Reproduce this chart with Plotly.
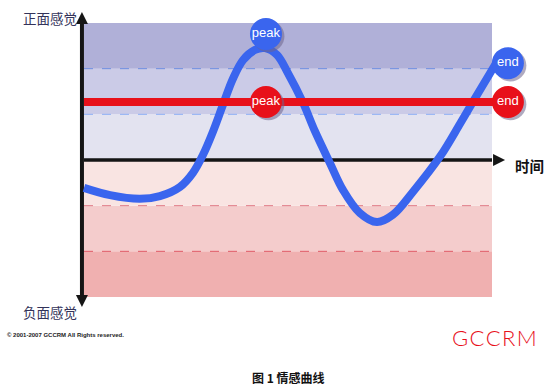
import plotly.graph_objects as go

# --- data -------------------------------------------------------------
# experienced emotion over time
time = [0.0, 0.64, 1.37, 1.86, 2.35, 2.67, 2.92, 3.16, 3.41, 3.65, 3.90, 4.19, 4.44,
        4.73, 5.0, 5.37, 5.66, 6.03, 6.35, 6.76, 7.18, 7.57, 8.06, 8.73, 9.22, 9.53,
        10.12]
feeling = [-0.61, -0.77, -0.85, -0.79, -0.59, -0.28, 0.12, 0.62, 1.22, 1.78, 2.19, 2.41,
           2.45, 2.30, 1.90, 1.25, 0.63, -0.07, -0.66, -1.16, -1.36, -1.20, -0.70, 0.08,
           0.80, 1.27, 2.15]

# remembered emotion (peak-end average)
memory_level = 1.27
peak_time, peak_value = 4.46, 2.76
end_time, end_value = 10.39, 2.12

# band boundaries of the feeling scale
band_edges = [-3, -2, -1, 0, 1, 2, 3]
band_colors = ["#f0b0b0", "#f4cccc", "#f9e4e2", "#e3e3f0", "#cbcbe7", "#b0b0d8"]
dash_levels = [2, 1, -1, -2]
dash_colors = ["#6f8fe0", "#8fb0f5", "#e07a86", "#e05a66"]
time_span = [0, 10]

BLUE = "#3a65ee"
RED = "#e8101a"

fig = go.Figure()

# coloured bands
for lo, hi, col in zip(band_edges[:-1], band_edges[1:], band_colors):
    fig.add_shape(type="rect", xref="x", yref="y", x0=time_span[0], x1=time_span[1],
                  y0=lo, y1=hi, fillcolor=col, line_width=0, layer="below")
for lvl, col in zip(dash_levels, dash_colors):
    fig.add_shape(type="line", xref="x", yref="y", x0=time_span[0], x1=time_span[1],
                  y0=lvl, y1=lvl, line=dict(color=col, width=1, dash="dash"), layer="below")

# time axis (horizontal arrow)
fig.add_trace(go.Scatter(x=[time_span[0], time_span[1]], y=[0, 0], mode="lines",
                         line=dict(color="#151515", width=3.5), hoverinfo="skip"))
fig.add_trace(go.Scatter(x=[10.32], y=[0], mode="markers",
                         marker=dict(symbol="arrow-right", size=12, color="#151515",
                                     line_width=0), hoverinfo="skip"))
# feeling axis (double arrow)
fig.add_trace(go.Scatter(x=[-0.05, -0.05], y=[3.0, -2.98], mode="lines",
                         line=dict(color="#151515", width=4), hoverinfo="skip"))
fig.add_trace(go.Scatter(x=[-0.05, -0.05], y=[3.24, -3.22], mode="markers",
                         marker=dict(symbol=["arrow-up", "arrow-down"], size=12,
                                     color="#151515", line_width=0), hoverinfo="skip"))

# experienced curve
fig.add_trace(go.Scatter(x=time, y=feeling, mode="lines",
                         line=dict(color=BLUE, width=8, shape="spline", smoothing=1.0),
                         hoverinfo="skip"))
# remembered level
fig.add_trace(go.Scatter(x=[0, end_time], y=[memory_level, memory_level], mode="lines",
                         line=dict(color=RED, width=8), hoverinfo="skip"))

# badges with soft shadow
bx = [peak_time, end_time, peak_time, end_time]
by = [peak_value, end_value, memory_level, memory_level]
bcol = [BLUE, BLUE, RED, RED]
btxt = ["peak", "end", "peak", "end"]
fig.add_trace(go.Scatter(x=[v + 0.06 for v in bx], y=[v - 0.05 for v in by], mode="markers",
                         marker=dict(size=32, color="rgba(110,100,140,0.55)", line_width=0),
                         hoverinfo="skip"))
fig.add_trace(go.Scatter(x=bx, y=by, mode="markers+text", text=btxt,
                         textposition="middle center",
                         textfont=dict(family="Arial, Liberation Sans", size=13, color="white"),
                         marker=dict(size=32, color=bcol, line_width=0), hoverinfo="skip"))

# --- text ---------------------------------------------------------------
def label(txt, x, y, size, color, family="Noto Sans CJK SC", weight="normal", xanchor="center"):
    fig.add_annotation(text=txt, x=x, y=y, xref="paper", yref="paper", showarrow=False,
                       xanchor=xanchor, yanchor="middle",
                       font=dict(family=family, size=size, color=color, weight=weight))

W, H = 550, 388
label("正面感觉", 50 / W, 1 - 18 / H, 13.5, "#33335a")
label("负面感觉", 50 / W, 1 - 312 / H, 13.5, "#33335a")
label("时间", 529 / W, 1 - 165 / H, 14.5, "#111111", weight="bold")
label("© 2001-2007 GCCRM All Rights reserved.", 5 / W, 1 - 335 / H, 6,
      "#222222", family="Arial, Liberation Sans", weight="bold", xanchor="left")
label("G\u200aC\u200aC\u200aR\u200aM", 494 / W, 1 - 337 / H, 22, RED, family="Lato", weight=300)
label("图 1 情感曲线", 288 / W, 1 - 377 / H, 12, "#111111", weight="bold")

# --- axes: 40.8 px per time unit, 45.67 px per feeling unit -------------
px_x, px_y = 40.8, 45.67
fig.update_layout(
    width=W, height=H, margin=dict(l=0, r=0, t=0, b=0),
    paper_bgcolor="white", plot_bgcolor="white", showlegend=False,
    xaxis=dict(range=[-84 / px_x, (W - 84) / px_x], visible=False, fixedrange=True),
    yaxis=dict(range=[(160 - H) / px_y, 160 / px_y], visible=False, fixedrange=True),
)

fig.write_html("out.html")
